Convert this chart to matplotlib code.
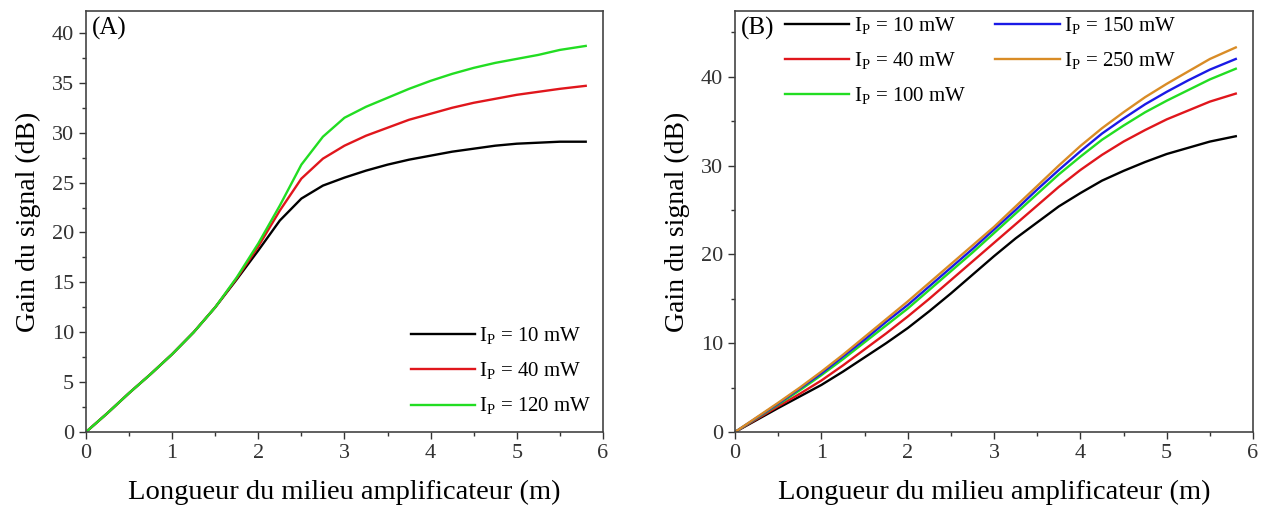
import matplotlib
matplotlib.use("Agg")
import matplotlib.pyplot as plt
from matplotlib.ticker import MultipleLocator

plt.rcParams['font.family'] = ['Liberation Serif', 'DejaVu Serif']
plt.rcParams['mathtext.fontset'] = 'custom'
plt.rcParams['mathtext.rm'] = 'Liberation Serif'

# Panel A : gain vs length
x_a = [0, 0.25, 0.5, 0.75, 1.0, 1.25, 1.5, 1.75, 2.0, 2.25, 2.5, 2.75, 3.0, 3.25, 3.5,
       3.75, 4.0, 4.25, 4.5, 4.75, 5.0, 5.25, 5.5, 5.8]
gain_a_10 = [0, 1.9, 3.9, 5.8, 7.8, 10.0, 12.5, 15.3, 18.2, 21.2, 23.4, 24.7, 25.5, 26.2, 26.8,
             27.3, 27.7, 28.1, 28.4, 28.7, 28.9, 29.0, 29.1, 29.1]
gain_a_40 = [0, 1.9, 3.9, 5.8, 7.8, 10.0, 12.5, 15.4, 18.6, 22.2, 25.4, 27.4, 28.7, 29.7, 30.5,
             31.3, 31.9, 32.5, 33.0, 33.4, 33.8, 34.1, 34.4, 34.7]
gain_a_120 = [0, 1.9, 3.9, 5.8, 7.8, 10.0, 12.5, 15.5, 18.9, 22.7, 26.8, 29.6, 31.5, 32.6, 33.5,
              34.4, 35.2, 35.9, 36.5, 37.0, 37.4, 37.8, 38.3, 38.7]
labels_a = ['10', '40', '120']

# Panel B
x_b = [0, 0.25, 0.5, 0.75, 1.0, 1.25, 1.5, 1.75, 2.0, 2.25, 2.5, 2.75, 3.0, 3.25, 3.5,
       3.75, 4.0, 4.25, 4.5, 4.75, 5.0, 5.25, 5.5, 5.8]
gain_b_10 = [0, 1.35, 2.7, 4.0, 5.3, 6.8, 8.4, 10.0, 11.7, 13.6, 15.6, 17.7, 19.8, 21.8, 23.6,
             25.4, 26.9, 28.3, 29.4, 30.4, 31.3, 32.0, 32.7, 33.3]
gain_b_40 = [0, 1.45, 2.9, 4.3, 5.8, 7.5, 9.3, 11.1, 13.0, 15.0, 17.1, 19.2, 21.3, 23.4, 25.5,
             27.6, 29.5, 31.2, 32.7, 34.0, 35.2, 36.2, 37.2, 38.1]
gain_b_100 = [0, 1.55, 3.1, 4.7, 6.4, 8.2, 10.1, 12.0, 13.9, 16.0, 18.1, 20.2, 22.4, 24.6, 26.8,
              29.0, 31.0, 32.9, 34.5, 36.0, 37.3, 38.5, 39.7, 40.9]
gain_b_150 = [0, 1.6, 3.2, 4.9, 6.6, 8.5, 10.4, 12.4, 14.3, 16.4, 18.5, 20.6, 22.8, 25.0, 27.3,
              29.5, 31.6, 33.6, 35.3, 36.9, 38.3, 39.6, 40.8, 42.0]
gain_b_250 = [0, 1.65, 3.3, 5.0, 6.8, 8.7, 10.7, 12.7, 14.7, 16.8, 18.9, 21.0, 23.1, 25.4, 27.7,
              30.0, 32.2, 34.2, 36.0, 37.7, 39.2, 40.6, 42.0, 43.3]
labels_b = ['10', '40', '100', '150', '250']

colors_a = ['black', '#e0161c', '#22dd22']
colors_b = ['black', '#e0161c', '#22dd22', '#1a1ae6', '#d98c26']

fig = plt.figure(figsize=(12.68, 5.22), dpi=100)
ax1 = fig.add_axes([0.0678, 0.1724, 0.4077, 0.8065])
ax2 = fig.add_axes([0.5797, 0.1724, 0.4085, 0.8065])


def lab(p):
    return r'I$_{\mathrm{P}}$ = ' + p + ' mW'


for ys, c, p in zip([gain_a_10, gain_a_40, gain_a_120], colors_a, labels_a):
    ax1.plot(x_a, ys, color=c, lw=1.7, label=lab(p))
for ys, c, p in zip([gain_b_10, gain_b_40, gain_b_100, gain_b_150, gain_b_250], colors_b, labels_b):
    ax2.plot(x_b, ys, color=c, lw=1.7, label=lab(p))

ax1.set_xlim(0, 6)
ax1.set_ylim(0, 42.2)
ax1.yaxis.set_major_locator(MultipleLocator(5))
ax1.yaxis.set_minor_locator(MultipleLocator(2.5))
ax2.set_xlim(0, 6)
ax2.set_ylim(0, 47.4)
ax2.yaxis.set_major_locator(MultipleLocator(10))
ax2.yaxis.set_minor_locator(MultipleLocator(5))

for ax, tag in [(ax1, '(A)'), (ax2, '(B)')]:
    ax.xaxis.set_major_locator(MultipleLocator(1))
    ax.xaxis.set_minor_locator(MultipleLocator(0.5))
    ax.tick_params(which='major', direction='out', length=5, width=1, labelsize=16, colors='#333333')
    ax.tick_params(which='minor', direction='out', length=3, width=1, colors='#333333')
    for s in ax.spines.values():
        s.set_linewidth(1.2)
        s.set_color('#444444')
    ax.set_xlabel('Longueur du milieu amplificateur (m)', fontsize=20.5, labelpad=12)
    ax.set_ylabel('Gain du signal (dB)', fontsize=20, labelpad=8)
    ax.text(0.012, 0.985, tag, transform=ax.transAxes, fontsize=18, va='top', ha='left')

ax1.legend(loc='lower right', frameon=False, fontsize=15, handlelength=3.1,
           handletextpad=0.2, labelspacing=0.65, bbox_to_anchor=(1.015, -0.01))
ax2.legend(loc='upper left', frameon=False, fontsize=15, ncol=2, handlelength=3.1,
           handletextpad=0.2, labelspacing=0.65, columnspacing=1.4,
           bbox_to_anchor=(0.06, 1.035))

fig.savefig('out.png', dpi=100)
